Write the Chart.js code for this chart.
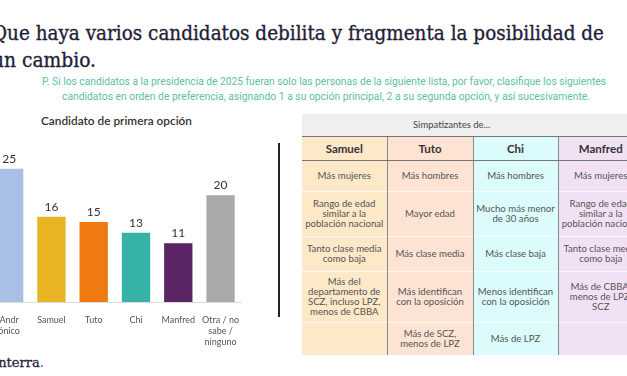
<!DOCTYPE html>
<html><head><meta charset="utf-8">
<script src="https://cdn.jsdelivr.net/npm/chart.js@4.4.1/dist/chart.umd.min.js"></script>
<style>
html,body{margin:0;padding:0;background:#fff;width:627px;height:376px;overflow:hidden;position:relative;font-family:Lato,"Open Sans",sans-serif;}
.abs{position:absolute;white-space:nowrap;}
.fit{display:inline-block;transform-origin:left center;}
#title{left:-8px;top:20px;font-family:"DejaVu Serif",serif;font-size:19.5px;color:#1e1e38;line-height:27px;-webkit-text-stroke:0.35px #1e1e38;}
.sub{color:#5cc0a2;font-size:10px;font-family:Roboto,sans-serif;}
#ctitle{left:41px;top:114px;font-size:11px;color:#333;font-weight:600;}
#logo{left:-6px;top:355px;font-family:"DejaVu Serif",serif;font-size:13px;color:#24243c;-webkit-text-stroke:0.3px #24243c;}
#sep{left:278px;top:143px;width:2px;height:174px;background:#222;}
#chartbox{position:absolute;left:-12px;top:142px;width:256px;height:205px;}
table{position:absolute;left:302px;top:114px;width:341px;border-collapse:collapse;table-layout:fixed;}
td{padding:0;text-align:center;vertical-align:middle;font-size:9.6px;color:#555;line-height:10px;white-space:nowrap;overflow:visible;}
td.h0{background:#efefef;height:22px;font-size:9.5px;color:#444;text-align:left;padding-left:111px;border-bottom:1px solid #777;}
td.hc{height:23px;font-size:11.5px;font-weight:bold;color:#333;border-bottom:1px solid #777;line-height:14px;}
td.c{border-top:1px solid rgba(255,255,255,0.7);}
.bl{border-left:1.5px solid #888;}
</style></head>
<body>
<div id="title" class="abs"><span class="fit" data-w="612">Que haya varios candidatos debilita y fragmenta la posibilidad de</span><br><span class="fit" data-w="104">un cambio.</span></div>
<div class="abs sub" style="left:42px;top:76px;"><span class="fit" data-w="564">P. Si los candidatos a la presidencia de 2025 fueran solo las personas de la siguiente lista, por favor, clasifique los siguientes</span></div>
<div class="abs sub" style="left:62px;top:91px;"><span class="fit" data-w="528">candidatos en orden de preferencia, asignando 1 a su opción principal, 2 a su segunda opción, y así sucesivamente.</span></div>
<div id="ctitle" class="abs"><span class="fit" data-w="151">Candidato de primera opción</span></div>
<div id="chartbox"><canvas id="c" width="256" height="205"></canvas></div>
<div id="sep" class="abs"></div>
<div id="logo" class="abs">interra<span style="color:#8ab">.</span></div>
<table id="tbl"></table>
<script>
// ---- chart data ----
const categories = [["Andr","ónico"], "Samuel", "Tuto", "Chi", "Manfred", ["Otra / no","sabe /","ninguno"]];
const values = [25, 16, 15, 13, 11, 20];
const barColors = ["#a9bfe6", "#e9b423", "#ef7a11", "#36b2a6", "#5b2465", "#a9a9a9"];

// ---- table data ----
const tableTitle = "Simpatizantes de...";
const tableCols = ["Samuel", "Tuto", "Chi", "Manfred"];
const tableRows = [
  ["Más mujeres", "Más hombres", "Más hombres", "Más mujeres"],
  ["Rango de edad<br>similar a la<br>población nacional", "Mayor edad", "Mucho más menor<br>de 30 años", "Rango de edad<br>similar a la<br>población nacional"],
  ["Tanto clase media<br>como baja", "Más clase media", "Más clase baja", "Tanto clase media<br>como baja"],
  ["Más del<br>departamento de<br>SCZ, incluso LPZ,<br>menos de CBBA", "Más identifican<br>con la oposición", "Menos identifican<br>con la oposición", "Más de CBBA,<br>menos de LPZ,<br>SCZ"],
  ["", "Más de SCZ,<br>menos de LPZ", "Más de LPZ", ""]
];
const colBg = ["#fde8c7", "#fde3d4", "#dcfbfd", "#f2e1f5"];
const colW = [85, 86, 85, 85];
const rowH = [31, 45, 35, 51, 33];

// build table
(function(){
  const t = document.getElementById('tbl');
  let html = '<colgroup>' + colW.map(w=>`<col style="width:${w}px">`).join('') + '</colgroup>';
  html += `<tr><td class="h0" colspan="4">${tableTitle}</td></tr>`;
  html += '<tr>' + tableCols.map((c,i)=>`<td class="hc${i?' bl':''}" style="background:${colBg[i]}">${c}</td>`).join('') + '</tr>';
  tableRows.forEach((r,ri)=>{
    html += '<tr>' + r.map((c,i)=>`<td class="c${i?' bl':''}" style="background:${colBg[i]};height:${rowH[ri]-1}px">${c}</td>`).join('') + '</tr>';
  });
  t.innerHTML = html;
})();

// fit text widths
document.querySelectorAll('.fit').forEach(el=>{
  const w = el.getBoundingClientRect().width;
  const target = +el.dataset.w;
  if (w>0 && target) el.style.transform = `scaleX(${target/w})`;
});

const valueLabels = {
  id:'valueLabels',
  afterDatasetsDraw(chart){
    const ctx = chart.ctx;
    const meta = chart.getDatasetMeta(0);
    ctx.save();
    ctx.font = '12px Lato, "Open Sans", sans-serif';
    ctx.fillStyle = '#333';
    ctx.textAlign = 'center';
    ctx.textBaseline = 'middle';
    meta.data.forEach((bar,i)=>{
      ctx.fillText(String(values[i]), bar.x, bar.y - 10);
    });
    ctx.restore();
  }
};

new Chart(document.getElementById('c'), {
  type:'bar',
  data:{ labels: categories, datasets:[{ data: values, backgroundColor: barColors, borderWidth:0, barPercentage:0.67, categoryPercentage:1 }]},
  options:{
    responsive:false, animation:false, devicePixelRatio:1,
    layout:{padding:0},
    plugins:{legend:{display:false}, tooltip:{enabled:false}},
    scales:{
      x:{
        grid:{display:false},
        border:{display:true, color:'#dddddd', width:1},
        ticks:{color:'#555', font:{size:9, family:'Lato, "Open Sans", sans-serif'}, padding:5, maxRotation:0, autoSkip:false},
        afterFit(s){ s.height = 45; }
      },
      y:{display:false, min:0, max:30}
    }
  },
  plugins:[valueLabels]
});
</script>
</body></html>
